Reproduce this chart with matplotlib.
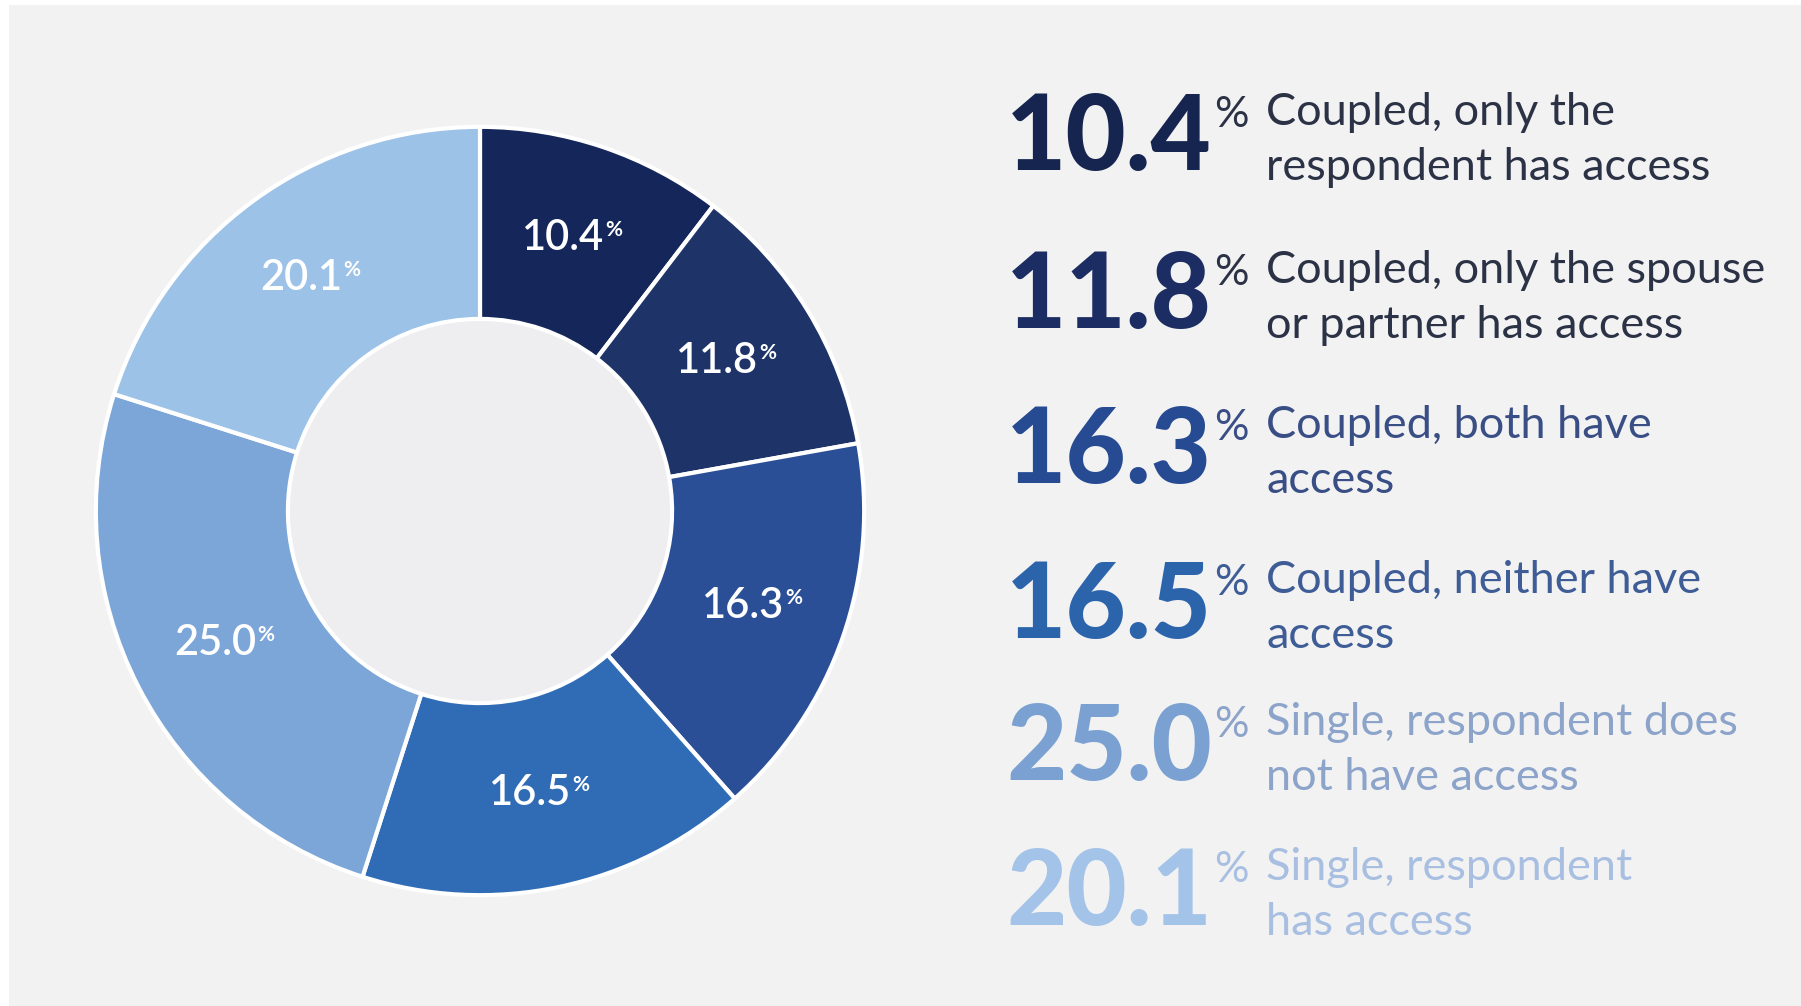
import numpy as np
import matplotlib
matplotlib.use('Agg')
import matplotlib.pyplot as plt
from matplotlib.patches import Rectangle, Circle

# share of respondents by household access group
shares = [10.4, 11.8, 16.3, 16.5, 25.0, 20.1]
captions = [
    ["Coupled, only the", "respondent has access"],
    ["Coupled, only the spouse", "or partner has access"],
    ["Coupled, both have", "access"],
    ["Coupled, neither have", "access"],
    ["Single, respondent does", "not have access"],
    ["Single, respondent", "has access"],
]

slice_colors = ['#15275a', '#1e3469', '#2a4f97', '#2f6cb5', '#7ca6d8', '#9dc2e8']
number_colors = ['#16254f', '#1b2d62', '#274b93', '#2c64ac', '#7ba1d2', '#a4c3e9']
caption_colors = ['#2c3246', '#2c3246', '#3a4e86', '#3e5c96', '#8ca3ca', '#a8bfe2']

W, H = 1801, 1006
fig = plt.figure(figsize=(W / 100, H / 100), dpi=100, facecolor='white')

# full-figure layer in pixel units for background and the side list
bg = fig.add_axes([0, 0, 1, 1], zorder=0)
bg.set_xlim(0, W)
bg.set_ylim(H, 0)
bg.axis('off')
bg.add_patch(Rectangle((9, 5), W - 9, H - 5, facecolor='#f2f2f2', edgecolor='none'))

# donut: centre (480, 511), outer radius 388 px
cx, cy, r = 480, 511, 388
ax = fig.add_axes([(cx - r) / W, (H - cy - r) / H, 2 * r / W, 2 * r / H], zorder=1)
ax.patch.set_visible(False)
wedges, _ = ax.pie(shares, colors=slice_colors, startangle=90, counterclock=False,
                   radius=1.0, wedgeprops=dict(width=0.5, edgecolor='white', linewidth=3))
ax.add_patch(Circle((0, 0), 0.5 - 0.006, facecolor='#eeeef0', edgecolor='none', zorder=3))
ax.set_xlim(-1.01, 1.01)
ax.set_ylim(-1.01, 1.01)
ax.set_aspect('equal')
ax.axis('off')

for w, val in zip(wedges, shares):
    mid = np.deg2rad((w.theta1 + w.theta2) / 2)
    x, y = 0.75 * np.cos(mid), 0.75 * np.sin(mid)
    t = ax.annotate(f"{val:.1f}", xy=(x, y), xytext=(-9, 0), textcoords='offset pixels',
                    ha='center', va='center', color='white', fontsize=30,
                    family='Lato', weight='semibold', zorder=5)
    ax.annotate('%', xy=(1, 0.5), xycoords=t, xytext=(1, 8), textcoords='offset pixels',
                ha='left', va='center', color='white', fontsize=15,
                family='Lato', weight='bold', zorder=5)

# side list: big number, small percent sign, two-line caption
baselines = [170, 328, 483, 638, 780, 925]
for val, cap, nc, cc, yb in zip(shares, captions, number_colors, caption_colors, baselines):
    bg.text(1212, yb, f"{val:.1f}", ha='right', va='baseline', fontsize=75,
            family='Lato', weight='black', color=nc)
    bg.text(1214, yb - 43, '%', ha='left', va='baseline', fontsize=31,
            family='Lato', color=cc)
    bg.text(1266, yb - 45, cap[0], ha='left', va='baseline', fontsize=32.5,
            family='Lato', color=cc)
    bg.text(1266, yb + 10, cap[1], ha='left', va='baseline', fontsize=32.5,
            family='Lato', color=cc)

fig.savefig('out.png', dpi=100, facecolor=fig.get_facecolor())
